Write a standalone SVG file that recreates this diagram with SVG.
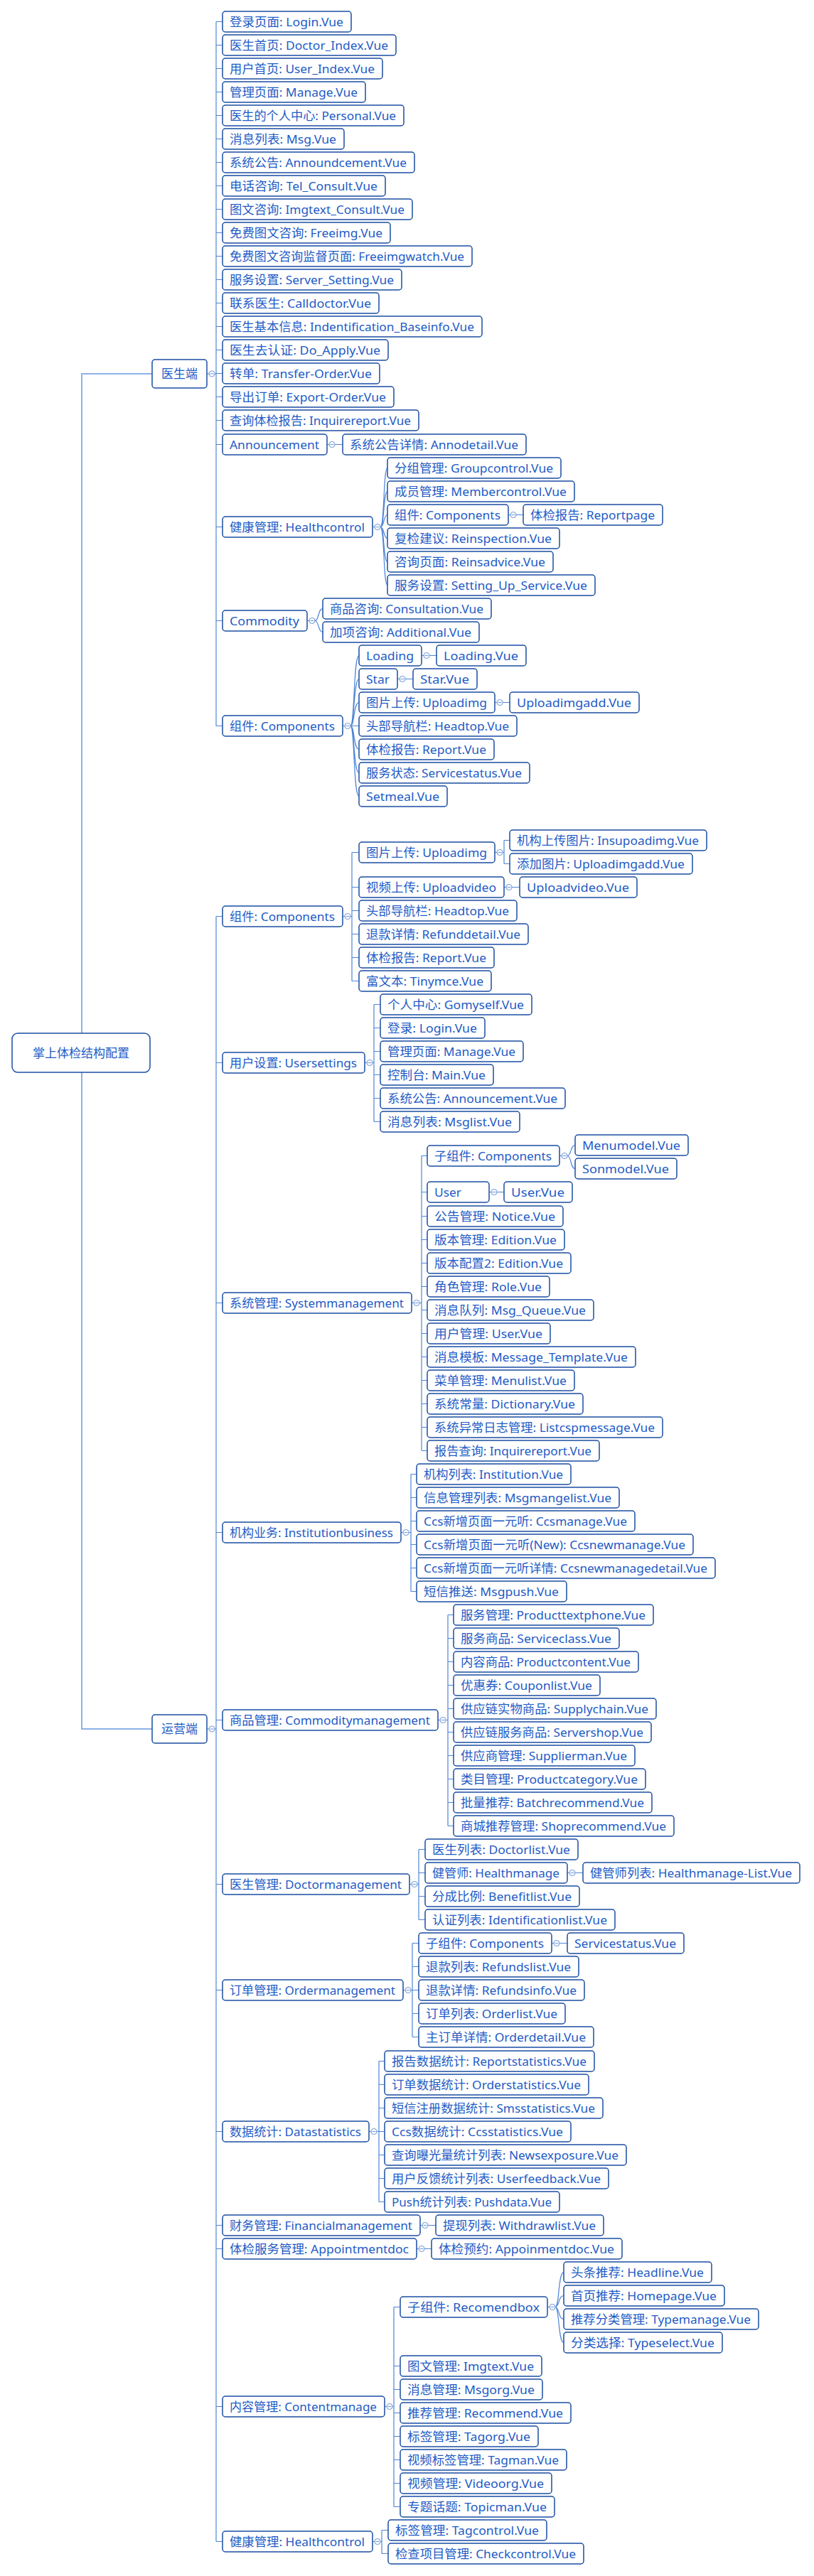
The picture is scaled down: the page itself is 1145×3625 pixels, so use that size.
<svg xmlns="http://www.w3.org/2000/svg" xmlns:xlink="http://www.w3.org/1999/xlink" width="1145" height="3625" viewBox="0 0 1145 3625">
<style>
.bg{fill:#fff}
#nodes rect{fill:#fff;stroke:#1b4ea3;stroke-width:1.5;rx:4px;ry:4px}
#nodes text{font-family:"Noto Sans","Noto Sans CJK SC",sans-serif;font-size:17px;fill:#1e5bc6}
#nodes .big rect{rx:8px;ry:8px}
.e{fill:none;stroke:#4f86d6;stroke-width:1.2}
.r{fill:none;stroke:#8db1e9;stroke-width:2}
.tg circle{fill:#fff;stroke:#7fa3dc;stroke-width:1.2}
.tg path{stroke:#7fa3dc;stroke-width:1.2}
</style>
<defs>
<g id="tg" class="tg"><circle r="4"/><path d="M-2.5,0h5"/></g>
</defs>
<rect class="bg" width="1145" height="3625"/>
<g id="connectors">
<path class="r" d="M115,1454V526H214M115,1509V2433H214"/>
<path class="e" d="M291,526h3M302,526h2M304,30.5V1021.5M304,30.5h9M304,63.5h9M304,96.5h9M304,129.5h9M304,162.5h9M304,195.5h9M304,228.5h9M304,261.5h9M304,294.5h9M304,327.5h9M304,360.5h9M304,393.5h9M304,426.5h9M304,459.5h9M304,492.5h9M304,525.5h9M304,558.5h9M304,591.5h9M304,625.5h9M304,741.5h9M304,873.5h9M304,1021.5h9"/>
<path class="e" d="M460,625.5h3M471,625.5H482"/>
<path class="e" d="M524,741.5h3M535,741.5C541,741.5 539,658.5 545,658.5M535,741.5C541,741.5 539,691.5 545,691.5M535,741.5C541,741.5 539,724.5 545,724.5M535,741.5C541,741.5 539,757.5 545,757.5M535,741.5C541,741.5 539,790.5 545,790.5M535,741.5C541,741.5 539,823.5 545,823.5"/>
<path class="e" d="M715,724.5h3M726,724.5H736"/>
<path class="e" d="M432,873.5h3M443,873.5C449,873.5 447,856.5 454,856.5M443,873.5C449,873.5 447,889.5 454,889.5"/>
<path class="e" d="M482,1021.5h3M493,1021.5C499,1021.5 497,922.5 505,922.5M493,1021.5C499,1021.5 497,955.5 505,955.5M493,1021.5C499,1021.5 497,988.5 505,988.5M493,1021.5H505M493,1021.5C499,1021.5 497,1054.5 505,1054.5M493,1021.5C499,1021.5 497,1087.5 505,1087.5M493,1021.5C499,1021.5 497,1120.5 505,1120.5"/>
<path class="e" d="M593,922.5h3M604,922.5H614M559,955.5h3M570,955.5H581M696,988.5h3M707,988.5H717"/>
<path class="e" d="M291,2433h3M302,2433h2M304,1289.5V3576.5M304,1289.5h9M304,1495.5h9M304,1833.5h9M304,2156.5h9M304,2420.5h9M304,2651.5h9M304,2800.5h9M304,2999.5h9M304,3131.5h9M304,3164.5h9M304,3386.5h9M304,3576.5h9"/>
<path class="e" d="M482,1289.5h3M493,1289.5H495M495,1199.5V1380.5M495,1199.5H505M495,1248.5H505M495,1281.5H505M495,1314.5H505M495,1347.5H505M495,1380.5H505"/>
<path class="e" d="M696,1199.5h3M707,1199.5H709M709,1182.5V1215.5M709,1182.5H717M709,1215.5H717M709,1248.5h3M720,1248.5H731"/>
<path class="e" d="M513,1495.5h3M524,1495.5H526M526,1413.5V1578.5M526,1413.5H535M526,1446.5H535M526,1479.5H535M526,1512.5H535M526,1545.5H535M526,1578.5H535"/>
<path class="e" d="M579,1833.5h3M590,1833.5H593M593,1626.5V2041.5M593,1626.5H601M593,1677.5H601M593,1711.5H601M593,1744.5H601M593,1777.5H601M593,1810.5H601M593,1843.5H601M593,1876.5H601M593,1909.5H601M593,1942.5H601M593,1975.5H601M593,2008.5H601M593,2041.5H601"/>
<path class="e" d="M787,1626.5h3M798,1626.5C804,1626.5 802,1611.5 809,1611.5M798,1626.5C804,1626.5 802,1644.5 809,1644.5M688,1677.5h3M699,1677.5H709"/>
<path class="e" d="M564,2156.5h3M575,2156.5H578M578,2074.5V2239.5M578,2074.5H586M578,2107.5H586M578,2140.5H586M578,2173.5H586M578,2206.5H586M578,2239.5H586"/>
<path class="e" d="M616,2420.5h3M627,2420.5H630M630,2272.5V2569.5M630,2272.5H638M630,2305.5H638M630,2338.5H638M630,2371.5H638M630,2404.5H638M630,2437.5H638M630,2470.5H638M630,2503.5H638M630,2536.5H638M630,2569.5H638"/>
<path class="e" d="M576,2651.5h3M587,2651.5H589M589,2602.5V2701.5M589,2602.5H598M589,2635.5H598M589,2668.5H598M589,2701.5H598M798,2635.5h3M809,2635.5H820"/>
<path class="e" d="M567,2800.5h3M578,2800.5H580M580,2734.5V2866.5M580,2734.5H589M580,2767.5H589M580,2800.5H589M580,2833.5H589M580,2866.5H589M776,2734.5h3M787,2734.5H798"/>
<path class="e" d="M519,2999.5h3M530,2999.5H533M533,2900.5V3098.5M533,2900.5H541M533,2933.5H541M533,2966.5H541M533,2999.5H541M533,3032.5H541M533,3065.5H541M533,3098.5H541"/>
<path class="e" d="M591,3131.5h3M602,3131.5H613M586,3164.5h3M597,3164.5H607"/>
<path class="e" d="M541,3386.5h3M552,3386.5H554M554,3246.5V3527.5M554,3246.5H563M554,3329.5H563M554,3362.5H563M554,3395.5H563M554,3428.5H563M554,3461.5H563M554,3494.5H563M554,3527.5H563"/>
<path class="e" d="M770,3246.5h3M781,3246.5C787,3246.5 785,3197.5 793,3197.5M781,3246.5C787,3246.5 785,3230.5 793,3230.5M781,3246.5C787,3246.5 785,3263.5 793,3263.5M781,3246.5C787,3246.5 785,3296.5 793,3296.5"/>
<path class="e" d="M524,3576.5h3M535,3576.5H537M537,3560.5V3593.5M537,3560.5H546M537,3593.5H546"/>
<use href="#tg" x="298" y="526"/><use href="#tg" x="467" y="625.5"/><use href="#tg" x="531" y="741.5"/><use href="#tg" x="722" y="724.5"/><use href="#tg" x="439" y="873.5"/><use href="#tg" x="489" y="1021.5"/><use href="#tg" x="600" y="922.5"/><use href="#tg" x="566" y="955.5"/><use href="#tg" x="703" y="988.5"/>
<use href="#tg" x="298" y="2433"/><use href="#tg" x="489" y="1289.5"/><use href="#tg" x="703" y="1199.5"/><use href="#tg" x="716" y="1248.5"/><use href="#tg" x="520" y="1495.5"/><use href="#tg" x="586" y="1833.5"/><use href="#tg" x="794" y="1626.5"/><use href="#tg" x="695" y="1677.5"/><use href="#tg" x="571" y="2156.5"/><use href="#tg" x="623" y="2420.5"/><use href="#tg" x="583" y="2651.5"/><use href="#tg" x="805" y="2635.5"/><use href="#tg" x="574" y="2800.5"/><use href="#tg" x="783" y="2734.5"/><use href="#tg" x="526" y="2999.5"/><use href="#tg" x="598" y="3131.5"/><use href="#tg" x="593" y="3164.5"/><use href="#tg" x="548" y="3386.5"/><use href="#tg" x="777" y="3246.5"/><use href="#tg" x="531" y="3576.5"/>
</g>
<g id="nodes">
<g id="root" class="big"><rect x="17" y="1454" width="194" height="55"/><text x="114" y="1488" text-anchor="middle">掌上体检结构配置</text></g>
<g id="doc"><rect x="214" y="506" width="77" height="40"/><text x="252.5" y="532" text-anchor="middle">医生端</text></g>
<g id="ops"><rect x="214" y="2413" width="77" height="40"/><text x="252.5" y="2439" text-anchor="middle">运营端</text></g>
<g id="d1"><rect x="313" y="16" width="181" height="29"/><text x="323" y="37" textLength="160" lengthAdjust="spacingAndGlyphs">登录页面: Login.Vue</text></g>
<g id="d2"><rect x="313" y="49" width="244" height="29"/><text x="323" y="70" textLength="223" lengthAdjust="spacingAndGlyphs">医生首页: Doctor_Index.Vue</text></g>
<g id="d3"><rect x="313" y="82" width="225" height="29"/><text x="323" y="103" textLength="204" lengthAdjust="spacingAndGlyphs">用户首页: User_Index.Vue</text></g>
<g id="d4"><rect x="313" y="115" width="201" height="29"/><text x="323" y="136" textLength="180" lengthAdjust="spacingAndGlyphs">管理页面: Manage.Vue</text></g>
<g id="d5"><rect x="313" y="148" width="255" height="29"/><text x="323" y="169" textLength="234" lengthAdjust="spacingAndGlyphs">医生的个人中心: Personal.Vue</text></g>
<g id="d6"><rect x="313" y="181" width="171" height="29"/><text x="323" y="202" textLength="150" lengthAdjust="spacingAndGlyphs">消息列表: Msg.Vue</text></g>
<g id="d7"><rect x="313" y="214" width="270" height="29"/><text x="323" y="235" textLength="249" lengthAdjust="spacingAndGlyphs">系统公告: Announdcement.Vue</text></g>
<g id="d8"><rect x="313" y="247" width="229" height="29"/><text x="323" y="268" textLength="208" lengthAdjust="spacingAndGlyphs">电话咨询: Tel_Consult.Vue</text></g>
<g id="d9"><rect x="313" y="280" width="267" height="29"/><text x="323" y="301" textLength="246" lengthAdjust="spacingAndGlyphs">图文咨询: Imgtext_Consult.Vue</text></g>
<g id="d10"><rect x="313" y="313" width="236" height="29"/><text x="323" y="334" textLength="215" lengthAdjust="spacingAndGlyphs">免费图文咨询: Freeimg.Vue</text></g>
<g id="d11"><rect x="313" y="346" width="351" height="29"/><text x="323" y="367" textLength="330" lengthAdjust="spacingAndGlyphs">免费图文咨询监督页面: Freeimgwatch.Vue</text></g>
<g id="d12"><rect x="313" y="379" width="252" height="29"/><text x="323" y="400" textLength="231" lengthAdjust="spacingAndGlyphs">服务设置: Server_Setting.Vue</text></g>
<g id="d13"><rect x="313" y="412" width="220" height="29"/><text x="323" y="433" textLength="199" lengthAdjust="spacingAndGlyphs">联系医生: Calldoctor.Vue</text></g>
<g id="d14"><rect x="313" y="445" width="365" height="29"/><text x="323" y="466" textLength="344" lengthAdjust="spacingAndGlyphs">医生基本信息: Indentification_Baseinfo.Vue</text></g>
<g id="d15"><rect x="313" y="478" width="233" height="29"/><text x="323" y="499" textLength="212" lengthAdjust="spacingAndGlyphs">医生去认证: Do_Apply.Vue</text></g>
<g id="d16"><rect x="313" y="511" width="221" height="29"/><text x="323" y="532" textLength="200" lengthAdjust="spacingAndGlyphs">转单: Transfer-Order.Vue</text></g>
<g id="d17"><rect x="313" y="544" width="241" height="29"/><text x="323" y="565" textLength="220" lengthAdjust="spacingAndGlyphs">导出订单: Export-Order.Vue</text></g>
<g id="d18"><rect x="313" y="577" width="276" height="29"/><text x="323" y="598" textLength="255" lengthAdjust="spacingAndGlyphs">查询体检报告: Inquirereport.Vue</text></g>
<g id="d19"><rect x="313" y="611" width="147" height="29"/><text x="323" y="632" textLength="126" lengthAdjust="spacingAndGlyphs">Announcement</text></g>
<g id="d19a"><rect x="482" y="611" width="258" height="29"/><text x="492" y="632" textLength="237" lengthAdjust="spacingAndGlyphs">系统公告详情: Annodetail.Vue</text></g>
<g id="d20"><rect x="313" y="727" width="211" height="29"/><text x="323" y="748" textLength="190" lengthAdjust="spacingAndGlyphs">健康管理: Healthcontrol</text></g>
<g id="d20a"><rect x="545" y="644" width="244" height="29"/><text x="555" y="665" textLength="223" lengthAdjust="spacingAndGlyphs">分组管理: Groupcontrol.Vue</text></g>
<g id="d20b"><rect x="545" y="677" width="263" height="29"/><text x="555" y="698" textLength="242" lengthAdjust="spacingAndGlyphs">成员管理: Membercontrol.Vue</text></g>
<g id="d20c"><rect x="545" y="710" width="170" height="29"/><text x="555" y="731" textLength="149" lengthAdjust="spacingAndGlyphs">组件: Components</text></g>
<g id="d20c1"><rect x="736" y="710" width="196" height="29"/><text x="746" y="731" textLength="175" lengthAdjust="spacingAndGlyphs">体检报告: Reportpage</text></g>
<g id="d20d"><rect x="545" y="743" width="242" height="29"/><text x="555" y="764" textLength="221" lengthAdjust="spacingAndGlyphs">复检建议: Reinspection.Vue</text></g>
<g id="d20e"><rect x="545" y="776" width="233" height="29"/><text x="555" y="797" textLength="212" lengthAdjust="spacingAndGlyphs">咨询页面: Reinsadvice.Vue</text></g>
<g id="d20f"><rect x="545" y="809" width="292" height="29"/><text x="555" y="830" textLength="271" lengthAdjust="spacingAndGlyphs">服务设置: Setting_Up_Service.Vue</text></g>
<g id="d21"><rect x="313" y="859" width="119" height="29"/><text x="323" y="880" textLength="98" lengthAdjust="spacingAndGlyphs">Commodity</text></g>
<g id="d21a"><rect x="454" y="842" width="237" height="29"/><text x="464" y="863" textLength="216" lengthAdjust="spacingAndGlyphs">商品咨询: Consultation.Vue</text></g>
<g id="d21b"><rect x="454" y="875" width="220" height="29"/><text x="464" y="896" textLength="199" lengthAdjust="spacingAndGlyphs">加项咨询: Additional.Vue</text></g>
<g id="d22"><rect x="313" y="1007" width="169" height="29"/><text x="323" y="1028" textLength="148" lengthAdjust="spacingAndGlyphs">组件: Components</text></g>
<g id="d22a"><rect x="505" y="908" width="88" height="29"/><text x="515" y="929" textLength="67" lengthAdjust="spacingAndGlyphs">Loading</text></g>
<g id="d22a1"><rect x="614" y="908" width="126" height="29"/><text x="624" y="929" textLength="105" lengthAdjust="spacingAndGlyphs">Loading.Vue</text></g>
<g id="d22b"><rect x="505" y="941" width="54" height="29"/><text x="515" y="962" textLength="33" lengthAdjust="spacingAndGlyphs">Star</text></g>
<g id="d22b1"><rect x="581" y="941" width="90" height="29"/><text x="591" y="962" textLength="69" lengthAdjust="spacingAndGlyphs">Star.Vue</text></g>
<g id="d22c"><rect x="505" y="974" width="191" height="29"/><text x="515" y="995" textLength="170" lengthAdjust="spacingAndGlyphs">图片上传: Uploadimg</text></g>
<g id="d22c1"><rect x="717" y="974" width="182" height="29"/><text x="727" y="995" textLength="161" lengthAdjust="spacingAndGlyphs">Uploadimgadd.Vue</text></g>
<g id="d22d"><rect x="505" y="1007" width="222" height="29"/><text x="515" y="1028" textLength="201" lengthAdjust="spacingAndGlyphs">头部导航栏: Headtop.Vue</text></g>
<g id="d22e"><rect x="505" y="1040" width="190" height="29"/><text x="515" y="1061" textLength="169" lengthAdjust="spacingAndGlyphs">体检报告: Report.Vue</text></g>
<g id="d22f"><rect x="505" y="1073" width="240" height="29"/><text x="515" y="1094" textLength="219" lengthAdjust="spacingAndGlyphs">服务状态: Servicestatus.Vue</text></g>
<g id="d22g"><rect x="505" y="1106" width="124" height="29"/><text x="515" y="1127" textLength="103" lengthAdjust="spacingAndGlyphs">Setmeal.Vue</text></g>
<g id="o1"><rect x="313" y="1275" width="169" height="29"/><text x="323" y="1296" textLength="148" lengthAdjust="spacingAndGlyphs">组件: Components</text></g>
<g id="o1a"><rect x="505" y="1185" width="191" height="29"/><text x="515" y="1206" textLength="170" lengthAdjust="spacingAndGlyphs">图片上传: Uploadimg</text></g>
<g id="o1a1"><rect x="717" y="1168" width="277" height="29"/><text x="727" y="1189" textLength="256" lengthAdjust="spacingAndGlyphs">机构上传图片: Insupoadimg.Vue</text></g>
<g id="o1a2"><rect x="717" y="1201" width="257" height="29"/><text x="727" y="1222" textLength="236" lengthAdjust="spacingAndGlyphs">添加图片: Uploadimgadd.Vue</text></g>
<g id="o1b"><rect x="505" y="1234" width="204" height="29"/><text x="515" y="1255" textLength="183" lengthAdjust="spacingAndGlyphs">视频上传: Uploadvideo</text></g>
<g id="o1b1"><rect x="731" y="1234" width="165" height="29"/><text x="741" y="1255" textLength="144" lengthAdjust="spacingAndGlyphs">Uploadvideo.Vue</text></g>
<g id="o1c"><rect x="505" y="1267" width="222" height="29"/><text x="515" y="1288" textLength="201" lengthAdjust="spacingAndGlyphs">头部导航栏: Headtop.Vue</text></g>
<g id="o1d"><rect x="505" y="1300" width="238" height="29"/><text x="515" y="1321" textLength="217" lengthAdjust="spacingAndGlyphs">退款详情: Refunddetail.Vue</text></g>
<g id="o1e"><rect x="505" y="1333" width="190" height="29"/><text x="515" y="1354" textLength="169" lengthAdjust="spacingAndGlyphs">体检报告: Report.Vue</text></g>
<g id="o1f"><rect x="505" y="1366" width="186" height="29"/><text x="515" y="1387" textLength="165" lengthAdjust="spacingAndGlyphs">富文本: Tinymce.Vue</text></g>
<g id="o2"><rect x="313" y="1481" width="200" height="29"/><text x="323" y="1502" textLength="179" lengthAdjust="spacingAndGlyphs">用户设置: Usersettings</text></g>
<g id="o2a"><rect x="535" y="1399" width="213" height="29"/><text x="545" y="1420" textLength="192" lengthAdjust="spacingAndGlyphs">个人中心: Gomyself.Vue</text></g>
<g id="o2b"><rect x="535" y="1432" width="147" height="29"/><text x="545" y="1453" textLength="126" lengthAdjust="spacingAndGlyphs">登录: Login.Vue</text></g>
<g id="o2c"><rect x="535" y="1465" width="201" height="29"/><text x="545" y="1486" textLength="180" lengthAdjust="spacingAndGlyphs">管理页面: Manage.Vue</text></g>
<g id="o2d"><rect x="535" y="1498" width="159" height="29"/><text x="545" y="1519" textLength="138" lengthAdjust="spacingAndGlyphs">控制台: Main.Vue</text></g>
<g id="o2e"><rect x="535" y="1531" width="260" height="29"/><text x="545" y="1552" textLength="239" lengthAdjust="spacingAndGlyphs">系统公告: Announcement.Vue</text></g>
<g id="o2f"><rect x="535" y="1564" width="196" height="29"/><text x="545" y="1585" textLength="175" lengthAdjust="spacingAndGlyphs">消息列表: Msglist.Vue</text></g>
<g id="o3"><rect x="313" y="1819" width="266" height="29"/><text x="323" y="1840" textLength="245" lengthAdjust="spacingAndGlyphs">系统管理: Systemmanagement</text></g>
<g id="o3a"><rect x="601" y="1612" width="186" height="29"/><text x="611" y="1633" textLength="165" lengthAdjust="spacingAndGlyphs">子组件: Components</text></g>
<g id="o3a1"><rect x="809" y="1597" width="159" height="29"/><text x="819" y="1618" textLength="138" lengthAdjust="spacingAndGlyphs">Menumodel.Vue</text></g>
<g id="o3a2"><rect x="809" y="1630" width="143" height="29"/><text x="819" y="1651" textLength="122" lengthAdjust="spacingAndGlyphs">Sonmodel.Vue</text></g>
<g id="o3b"><rect x="601" y="1663" width="87" height="29"/><text x="611" y="1684" textLength="38" lengthAdjust="spacingAndGlyphs">User</text></g>
<g id="o3b1"><rect x="709" y="1663" width="96" height="29"/><text x="719" y="1684" textLength="75" lengthAdjust="spacingAndGlyphs">User.Vue</text></g>
<g id="o3c"><rect x="601" y="1697" width="191" height="29"/><text x="611" y="1718" textLength="170" lengthAdjust="spacingAndGlyphs">公告管理: Notice.Vue</text></g>
<g id="o3d"><rect x="601" y="1730" width="193" height="29"/><text x="611" y="1751" textLength="172" lengthAdjust="spacingAndGlyphs">版本管理: Edition.Vue</text></g>
<g id="o3e"><rect x="601" y="1763" width="202" height="29"/><text x="611" y="1784" textLength="181" lengthAdjust="spacingAndGlyphs">版本配置2: Edition.Vue</text></g>
<g id="o3f"><rect x="601" y="1796" width="172" height="29"/><text x="611" y="1817" textLength="151" lengthAdjust="spacingAndGlyphs">角色管理: Role.Vue</text></g>
<g id="o3g"><rect x="601" y="1829" width="234" height="29"/><text x="611" y="1850" textLength="213" lengthAdjust="spacingAndGlyphs">消息队列: Msg_Queue.Vue</text></g>
<g id="o3h"><rect x="601" y="1862" width="173" height="29"/><text x="611" y="1883" textLength="152" lengthAdjust="spacingAndGlyphs">用户管理: User.Vue</text></g>
<g id="o3i"><rect x="601" y="1895" width="293" height="29"/><text x="611" y="1916" textLength="272" lengthAdjust="spacingAndGlyphs">消息模板: Message_Template.Vue</text></g>
<g id="o3j"><rect x="601" y="1928" width="207" height="29"/><text x="611" y="1949" textLength="186" lengthAdjust="spacingAndGlyphs">菜单管理: Menulist.Vue</text></g>
<g id="o3k"><rect x="601" y="1961" width="219" height="29"/><text x="611" y="1982" textLength="198" lengthAdjust="spacingAndGlyphs">系统常量: Dictionary.Vue</text></g>
<g id="o3l"><rect x="601" y="1994" width="331" height="29"/><text x="611" y="2015" textLength="310" lengthAdjust="spacingAndGlyphs">系统异常日志管理: Listcspmessage.Vue</text></g>
<g id="o3m"><rect x="601" y="2027" width="242" height="29"/><text x="611" y="2048" textLength="221" lengthAdjust="spacingAndGlyphs">报告查询: Inquirereport.Vue</text></g>
<g id="o4"><rect x="313" y="2142" width="251" height="29"/><text x="323" y="2163" textLength="230" lengthAdjust="spacingAndGlyphs">机构业务: Institutionbusiness</text></g>
<g id="o4a"><rect x="586" y="2060" width="217" height="29"/><text x="596" y="2081" textLength="196" lengthAdjust="spacingAndGlyphs">机构列表: Institution.Vue</text></g>
<g id="o4b"><rect x="586" y="2093" width="285" height="29"/><text x="596" y="2114" textLength="264" lengthAdjust="spacingAndGlyphs">信息管理列表: Msgmangelist.Vue</text></g>
<g id="o4c"><rect x="586" y="2126" width="307" height="29"/><text x="596" y="2147" textLength="286" lengthAdjust="spacingAndGlyphs">Ccs新增页面一元听: Ccsmanage.Vue</text></g>
<g id="o4d"><rect x="586" y="2159" width="389" height="29"/><text x="596" y="2180" textLength="368" lengthAdjust="spacingAndGlyphs">Ccs新增页面一元听(New): Ccsnewmanage.Vue</text></g>
<g id="o4e"><rect x="586" y="2192" width="420" height="29"/><text x="596" y="2213" textLength="399" lengthAdjust="spacingAndGlyphs">Ccs新增页面一元听详情: Ccsnewmanagedetail.Vue</text></g>
<g id="o4f"><rect x="586" y="2225" width="211" height="29"/><text x="596" y="2246" textLength="190" lengthAdjust="spacingAndGlyphs">短信推送: Msgpush.Vue</text></g>
<g id="o5"><rect x="313" y="2406" width="303" height="29"/><text x="323" y="2427" textLength="282" lengthAdjust="spacingAndGlyphs">商品管理: Commoditymanagement</text></g>
<g id="o5a"><rect x="638" y="2258" width="281" height="29"/><text x="648" y="2279" textLength="260" lengthAdjust="spacingAndGlyphs">服务管理: Producttextphone.Vue</text></g>
<g id="o5b"><rect x="638" y="2291" width="233" height="29"/><text x="648" y="2312" textLength="212" lengthAdjust="spacingAndGlyphs">服务商品: Serviceclass.Vue</text></g>
<g id="o5c"><rect x="638" y="2324" width="260" height="29"/><text x="648" y="2345" textLength="239" lengthAdjust="spacingAndGlyphs">内容商品: Productcontent.Vue</text></g>
<g id="o5d"><rect x="638" y="2357" width="206" height="29"/><text x="648" y="2378" textLength="185" lengthAdjust="spacingAndGlyphs">优惠券: Couponlist.Vue</text></g>
<g id="o5e"><rect x="638" y="2390" width="285" height="29"/><text x="648" y="2411" textLength="264" lengthAdjust="spacingAndGlyphs">供应链实物商品: Supplychain.Vue</text></g>
<g id="o5f"><rect x="638" y="2423" width="278" height="29"/><text x="648" y="2444" textLength="257" lengthAdjust="spacingAndGlyphs">供应链服务商品: Servershop.Vue</text></g>
<g id="o5g"><rect x="638" y="2456" width="255" height="29"/><text x="648" y="2477" textLength="234" lengthAdjust="spacingAndGlyphs">供应商管理: Supplierman.Vue</text></g>
<g id="o5h"><rect x="638" y="2489" width="270" height="29"/><text x="648" y="2510" textLength="249" lengthAdjust="spacingAndGlyphs">类目管理: Productcategory.Vue</text></g>
<g id="o5i"><rect x="638" y="2522" width="279" height="29"/><text x="648" y="2543" textLength="258" lengthAdjust="spacingAndGlyphs">批量推荐: Batchrecommend.Vue</text></g>
<g id="o5j"><rect x="638" y="2555" width="310" height="29"/><text x="648" y="2576" textLength="289" lengthAdjust="spacingAndGlyphs">商城推荐管理: Shoprecommend.Vue</text></g>
<g id="o6"><rect x="313" y="2637" width="263" height="29"/><text x="323" y="2658" textLength="242" lengthAdjust="spacingAndGlyphs">医生管理: Doctormanagement</text></g>
<g id="o6a"><rect x="598" y="2588" width="215" height="29"/><text x="608" y="2609" textLength="194" lengthAdjust="spacingAndGlyphs">医生列表: Doctorlist.Vue</text></g>
<g id="o6b"><rect x="598" y="2621" width="200" height="29"/><text x="608" y="2642" textLength="179" lengthAdjust="spacingAndGlyphs">健管师: Healthmanage</text></g>
<g id="o6b1"><rect x="820" y="2621" width="305" height="29"/><text x="830" y="2642" textLength="284" lengthAdjust="spacingAndGlyphs">健管师列表: Healthmanage-List.Vue</text></g>
<g id="o6c"><rect x="598" y="2654" width="217" height="29"/><text x="608" y="2675" textLength="196" lengthAdjust="spacingAndGlyphs">分成比例: Benefitlist.Vue</text></g>
<g id="o6d"><rect x="598" y="2687" width="267" height="29"/><text x="608" y="2708" textLength="246" lengthAdjust="spacingAndGlyphs">认证列表: Identificationlist.Vue</text></g>
<g id="o7"><rect x="313" y="2786" width="254" height="29"/><text x="323" y="2807" textLength="233" lengthAdjust="spacingAndGlyphs">订单管理: Ordermanagement</text></g>
<g id="o7a"><rect x="589" y="2720" width="187" height="29"/><text x="599" y="2741" textLength="166" lengthAdjust="spacingAndGlyphs">子组件: Components</text></g>
<g id="o7a1"><rect x="798" y="2720" width="164" height="29"/><text x="808" y="2741" textLength="143" lengthAdjust="spacingAndGlyphs">Servicestatus.Vue</text></g>
<g id="o7b"><rect x="589" y="2753" width="225" height="29"/><text x="599" y="2774" textLength="204" lengthAdjust="spacingAndGlyphs">退款列表: Refundslist.Vue</text></g>
<g id="o7c"><rect x="589" y="2786" width="233" height="29"/><text x="599" y="2807" textLength="212" lengthAdjust="spacingAndGlyphs">退款详情: Refundsinfo.Vue</text></g>
<g id="o7d"><rect x="589" y="2819" width="206" height="29"/><text x="599" y="2840" textLength="185" lengthAdjust="spacingAndGlyphs">订单列表: Orderlist.Vue</text></g>
<g id="o7e"><rect x="589" y="2852" width="246" height="29"/><text x="599" y="2873" textLength="225" lengthAdjust="spacingAndGlyphs">主订单详情: Orderdetail.Vue</text></g>
<g id="o8"><rect x="313" y="2985" width="206" height="29"/><text x="323" y="3006" textLength="185" lengthAdjust="spacingAndGlyphs">数据统计: Datastatistics</text></g>
<g id="o8a"><rect x="541" y="2886" width="295" height="29"/><text x="551" y="2907" textLength="274" lengthAdjust="spacingAndGlyphs">报告数据统计: Reportstatistics.Vue</text></g>
<g id="o8b"><rect x="541" y="2919" width="287" height="29"/><text x="551" y="2940" textLength="266" lengthAdjust="spacingAndGlyphs">订单数据统计: Orderstatistics.Vue</text></g>
<g id="o8c"><rect x="541" y="2952" width="307" height="29"/><text x="551" y="2973" textLength="286" lengthAdjust="spacingAndGlyphs">短信注册数据统计: Smsstatistics.Vue</text></g>
<g id="o8d"><rect x="541" y="2985" width="262" height="29"/><text x="551" y="3006" textLength="241" lengthAdjust="spacingAndGlyphs">Ccs数据统计: Ccsstatistics.Vue</text></g>
<g id="o8e"><rect x="541" y="3018" width="340" height="29"/><text x="551" y="3039" textLength="319" lengthAdjust="spacingAndGlyphs">查询曝光量统计列表: Newsexposure.Vue</text></g>
<g id="o8f"><rect x="541" y="3051" width="315" height="29"/><text x="551" y="3072" textLength="294" lengthAdjust="spacingAndGlyphs">用户反馈统计列表: Userfeedback.Vue</text></g>
<g id="o8g"><rect x="541" y="3084" width="246" height="29"/><text x="551" y="3105" textLength="225" lengthAdjust="spacingAndGlyphs">Push统计列表: Pushdata.Vue</text></g>
<g id="o9"><rect x="313" y="3117" width="278" height="29"/><text x="323" y="3138" textLength="257" lengthAdjust="spacingAndGlyphs">财务管理: Financialmanagement</text></g>
<g id="o9a"><rect x="613" y="3117" width="236" height="29"/><text x="623" y="3138" textLength="215" lengthAdjust="spacingAndGlyphs">提现列表: Withdrawlist.Vue</text></g>
<g id="o10"><rect x="313" y="3150" width="273" height="29"/><text x="323" y="3171" textLength="252" lengthAdjust="spacingAndGlyphs">体检服务管理: Appointmentdoc</text></g>
<g id="o10a"><rect x="607" y="3150" width="268" height="29"/><text x="617" y="3171" textLength="247" lengthAdjust="spacingAndGlyphs">体检预约: Appoinmentdoc.Vue</text></g>
<g id="o11"><rect x="313" y="3372" width="228" height="29"/><text x="323" y="3393" textLength="207" lengthAdjust="spacingAndGlyphs">内容管理: Contentmanage</text></g>
<g id="o11a"><rect x="563" y="3232" width="207" height="29"/><text x="573" y="3253" textLength="186" lengthAdjust="spacingAndGlyphs">子组件: Recomendbox</text></g>
<g id="o11a1"><rect x="793" y="3183" width="208" height="29"/><text x="803" y="3204" textLength="187" lengthAdjust="spacingAndGlyphs">头条推荐: Headline.Vue</text></g>
<g id="o11a2"><rect x="793" y="3216" width="226" height="29"/><text x="803" y="3237" textLength="205" lengthAdjust="spacingAndGlyphs">首页推荐: Homepage.Vue</text></g>
<g id="o11a3"><rect x="793" y="3249" width="274" height="29"/><text x="803" y="3270" textLength="253" lengthAdjust="spacingAndGlyphs">推荐分类管理: Typemanage.Vue</text></g>
<g id="o11a4"><rect x="793" y="3282" width="223" height="29"/><text x="803" y="3303" textLength="202" lengthAdjust="spacingAndGlyphs">分类选择: Typeselect.Vue</text></g>
<g id="o11b"><rect x="563" y="3315" width="199" height="29"/><text x="573" y="3336" textLength="178" lengthAdjust="spacingAndGlyphs">图文管理: Imgtext.Vue</text></g>
<g id="o11c"><rect x="563" y="3348" width="200" height="29"/><text x="573" y="3369" textLength="179" lengthAdjust="spacingAndGlyphs">消息管理: Msgorg.Vue</text></g>
<g id="o11d"><rect x="563" y="3381" width="240" height="29"/><text x="573" y="3402" textLength="219" lengthAdjust="spacingAndGlyphs">推荐管理: Recommend.Vue</text></g>
<g id="o11e"><rect x="563" y="3414" width="194" height="29"/><text x="573" y="3435" textLength="173" lengthAdjust="spacingAndGlyphs">标签管理: Tagorg.Vue</text></g>
<g id="o11f"><rect x="563" y="3447" width="234" height="29"/><text x="573" y="3468" textLength="213" lengthAdjust="spacingAndGlyphs">视频标签管理: Tagman.Vue</text></g>
<g id="o11g"><rect x="563" y="3480" width="213" height="29"/><text x="573" y="3501" textLength="192" lengthAdjust="spacingAndGlyphs">视频管理: Videoorg.Vue</text></g>
<g id="o11h"><rect x="563" y="3513" width="217" height="29"/><text x="573" y="3534" textLength="196" lengthAdjust="spacingAndGlyphs">专题话题: Topicman.Vue</text></g>
<g id="o12"><rect x="313" y="3562" width="211" height="29"/><text x="323" y="3583" textLength="190" lengthAdjust="spacingAndGlyphs">健康管理: Healthcontrol</text></g>
<g id="o12a"><rect x="546" y="3546" width="223" height="29"/><text x="556" y="3567" textLength="202" lengthAdjust="spacingAndGlyphs">标签管理: Tagcontrol.Vue</text></g>
<g id="o12b"><rect x="546" y="3579" width="275" height="29"/><text x="556" y="3600" textLength="254" lengthAdjust="spacingAndGlyphs">检查项目管理: Checkcontrol.Vue</text></g>
</g>
</svg>
